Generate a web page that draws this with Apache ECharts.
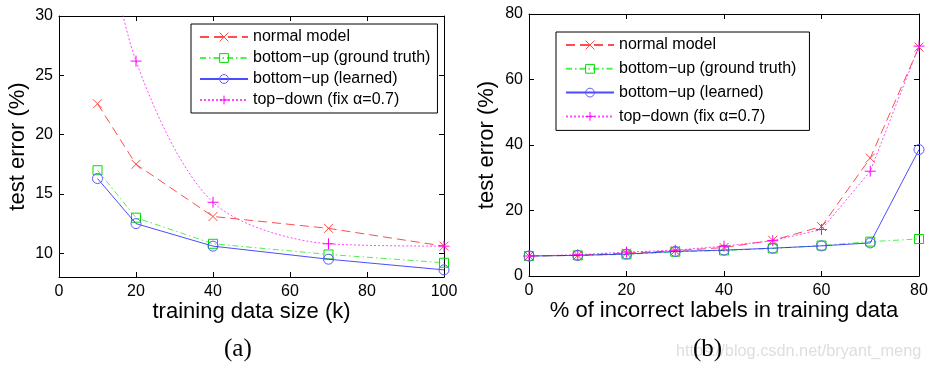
<!DOCTYPE html>
<html>
<head>
<meta charset="utf-8">
<script src="https://cdn.jsdelivr.net/npm/echarts@6/dist/echarts.min.js"></script>
<style>
  html, body { margin: 0; padding: 0; background: #fff; }
  #wrap { position: relative; width: 932px; height: 370px; overflow: hidden; }
  #left { position: absolute; left: 0; top: 0; width: 466px; height: 370px; }
  #right { position: absolute; left: 466px; top: 0; width: 466px; height: 370px; }
</style>
</head>
<body>
<div id="wrap"><div id="left"></div><div id="right"></div></div>
<script>
// ---------- data ----------
const seriesNames = ['normal model', 'bottom\u2212up (ground truth)', 'bottom\u2212up (learned)', 'top\u2212down (fix \u03b1=0.7)'];

// (a) training data size (k)
const leftX = [10, 20, 40, 70, 100];
const leftNormal = [22.6, 17.5, 13.1, 12.1, 10.6];
const leftGroundTruth = [17.0, 13.0, 10.8, 9.9, 9.2];
const leftLearned = [16.3, 12.5, 10.6, 9.5, 8.6];
const leftTopDown = [41.0, 26.2, 14.3, 10.8, 10.6];
const leftXTicks = [0, 20, 40, 60, 80, 100];
const leftYTicks = [10, 15, 20, 25, 30];

// (b) % of incorrect labels in training data
const rightX = [0, 10, 20, 30, 40, 50, 60, 70, 80];
const rightNormal = [6.1, 6.3, 7.0, 7.7, 8.7, 10.9, 15.1, 36.0, 69.9];
const rightGroundTruth = [6.1, 6.3, 6.6, 7.4, 7.8, 8.4, 9.3, 10.5, 11.3];
const rightLearned = [6.1, 6.3, 6.7, 7.5, 7.9, 8.5, 9.2, 10.1, 38.6];
const rightTopDown = [6.1, 6.5, 7.3, 7.9, 9.1, 10.8, 14.2, 32.0, 70.2];
const rightXTicks = [0, 20, 40, 60, 80];
const rightYTicks = [0, 20, 40, 60, 80];

// ---------- styles ----------
const SANS = '"Liberation Sans", Arial, Helvetica, sans-serif';
const SERIF = '"Liberation Serif", "Times New Roman", serif';
const CROSS = 'path://M0,0L10,10M10,0L0,10';
const PLUS = 'path://M5,0L5,10M0,5L10,5';

const styles = [
  { line: '#ff0000', mark: '#ff4a4a', symbol: CROSS, size: 9, dash: [9, 5] },
  { line: '#00ee00', mark: '#00dd00', symbol: 'rect', size: 9, dash: [6, 3, 1.5, 3] },
  { line: '#0000ff', mark: '#5a5aff', symbol: 'circle', size: 10, dash: 'solid' },
  { line: '#ff00ff', mark: '#ff00ff', symbol: PLUS, size: 11, dash: [2, 2] }
];

function pairs(xs, ys) { return xs.map((x, i) => [x, ys[i]]); }

function makeSeries(xs, ysList, smoothIdx) {
  return ysList.map((ys, k) => ({
    name: seriesNames[k],
    type: 'line',
    data: pairs(xs, ys),
    symbol: styles[k].symbol,
    symbolSize: styles[k].size,
    showSymbol: true,
    smooth: k === smoothIdx ? 0.3 : false,
    clip: true,
    lineStyle: { color: styles[k].line, width: 1, type: styles[k].dash, opacity: 0.7 },
    itemStyle: { color: 'transparent', borderColor: styles[k].mark, borderWidth: 1 },
    emphasis: { disabled: true },
    z: 2 + k
  }));
}

function axisPair(pos, min, max, ticks, name, nameGap, showLabel) {
  const isX = pos === 'bottom' || pos === 'top';
  return {
    type: 'value',
    position: pos,
    min: min, max: max,
    name: showLabel ? name : '',
    nameLocation: 'middle',
    nameGap: nameGap,
    nameMoveOverlap: false,
    nameTextStyle: { fontFamily: SANS, fontSize: 22, color: '#000' },
    splitLine: { show: false },
    axisLine: { show: true, onZero: false, lineStyle: { color: '#000', width: 1 } },
    axisTick: { show: true, inside: true, length: 5, customValues: ticks, lineStyle: { color: '#000', width: 1 } },
    axisLabel: {
      show: showLabel, customValues: ticks,
      fontFamily: SANS, fontSize: 16, color: '#000',
      margin: isX ? 7 : 6
    }
  };
}

function legend(left, top, gap, padding) {
  return {
    orient: 'vertical',
    left: left, top: top,
    data: seriesNames,
    itemWidth: 48, itemHeight: 11, itemGap: gap,
    padding: padding,
    borderColor: '#000', borderWidth: 1,
    backgroundColor: '#fff',
    selectedMode: false,
    itemStyle: { borderWidth: 1 },
    textStyle: { fontFamily: SANS, fontSize: 16, color: '#000', lineHeight: 16 }
  };
}

// ---------- chart (a) ----------
const chartA = echarts.init(document.getElementById('left'), null, { renderer: 'canvas' });
chartA.setOption({
  animation: false,
  backgroundColor: '#fff',
  grid: { left: 59, top: 16, width: 385, height: 261, containLabel: false, outerBoundsMode: 'none' },
  legend: legend(191, 24, 5, [5, 7, 5, 8]),
  xAxis: [
    axisPair('bottom', 0, 100, leftXTicks, 'training data size (k)', 24, true),
    axisPair('top', 0, 100, leftXTicks, '', 0, false)
  ],
  yAxis: [
    axisPair('left', 8, 30, leftYTicks, 'test error (%)', 30, true),
    axisPair('right', 8, 30, leftYTicks, '', 0, false)
  ],
  series: makeSeries(leftX, [leftNormal, leftGroundTruth, leftLearned, leftTopDown], 3),
  graphic: [{
    type: 'text', left: 224, top: 337,
    style: { text: '(a)', font: '25px ' + SERIF, fill: '#000' }
  }]
});

// ---------- chart (b) ----------
const chartB = echarts.init(document.getElementById('right'), null, { renderer: 'canvas' });
chartB.setOption({
  animation: false,
  backgroundColor: '#fff',
  grid: { left: 63, top: 14, width: 390, height: 262, containLabel: false, outerBoundsMode: 'none' },
  legend: legend(90, 32, 7.8, [5, 13, 6, 9]),
  xAxis: [
    axisPair('bottom', 0, 80, rightXTicks, '% of incorrect labels in training data', 24, true),
    axisPair('top', 0, 80, rightXTicks, '', 0, false)
  ],
  yAxis: [
    axisPair('left', 0, 80, rightYTicks, 'test error (%)', 31, true),
    axisPair('right', 0, 80, rightYTicks, '', 0, false)
  ],
  series: makeSeries(rightX, [rightNormal, rightGroundTruth, rightLearned, rightTopDown], -1),
  graphic: [
    {
      type: 'text', left: 210, top: 344, z: 1,
      style: { text: 'https://blog.csdn.net/bryant_meng', font: '16.3px ' + SANS, fill: '#dedede' }
    },
    {
      type: 'text', left: 227, top: 337, z: 2,
      style: { text: '(b)', font: '25px ' + SERIF, fill: '#000' }
    }
  ]
});
</script>
</body>
</html>
